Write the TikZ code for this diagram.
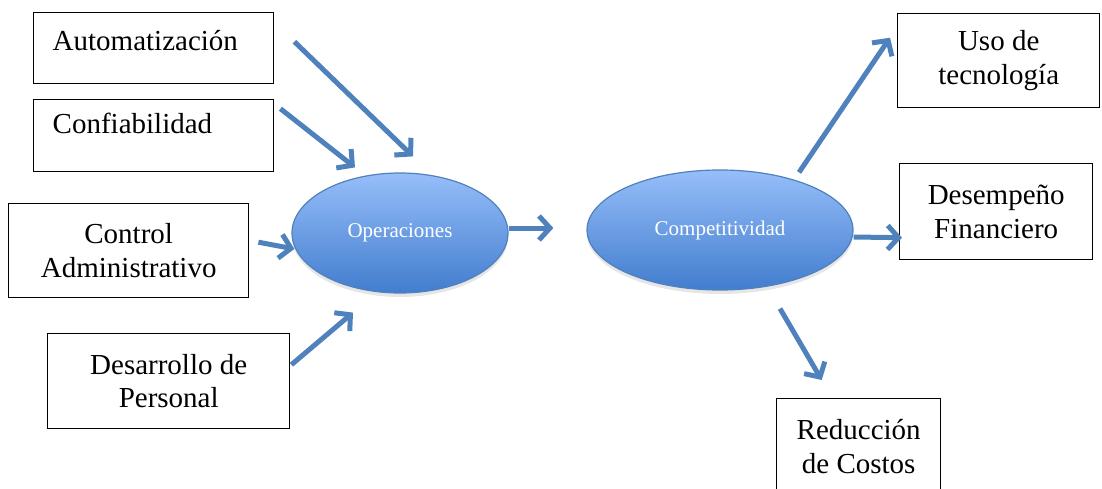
\documentclass[tikz,border=0pt]{standalone}
\usepackage{fontspec}
\setmainfont{Liberation Serif}
\usetikzlibrary{shapes.geometric,arrows.meta,shadows}
\definecolor{azulflecha}{RGB}{79,129,189}
\definecolor{azulclaro}{RGB}{150,190,249}
\definecolor{azuloscuro}{RGB}{66,125,206}

\begin{document}
\begin{tikzpicture}[x=1pt,y=-1pt,
    caja/.style={draw=black,line width=1.4pt,fill=white,inner sep=0pt,font=\fontsize{29}{33.5}\selectfont},
    elipse/.style={ellipse,draw=azulflecha,line width=1.2pt,top color=azulclaro,bottom color=azuloscuro,
      text=white,inner sep=0pt,font=\fontsize{21}{24}\selectfont,
      drop shadow={opacity=0.2,shadow xshift=0pt,shadow yshift=-4pt}},
    flecha/.style={draw=azulflecha,line width=5pt,-{Straight Barb[length=11pt,width=24pt]}}]

     \useasboundingbox (0,0) rectangle (1102,489);

     % draw left boxes
     \node[caja,anchor=north west,text width=202pt,inner xsep=19pt,align=left,
           text height=38pt,text depth=33pt] (auto) at (33,12) {Automatización};
     \node[caja,anchor=north west,text width=202pt,inner xsep=19pt,align=left,
           text height=34pt,text depth=38pt] (conf) at (33,99) {Confiabilidad};
     \node[caja,anchor=north west,minimum width=240pt,minimum height=94pt,align=center] (ctrl) at (8,203) {Control\\Administrativo};
     \node[caja,anchor=north west,minimum width=242pt,minimum height=95pt,align=center] (desa) at (47,333) {Desarrollo de\\Personal};

     % draw ellipses
     \node[elipse,minimum width=216pt,minimum height=120pt] (oper) at (400,233) {Operaciones};
     \node[elipse,minimum width=266pt,minimum height=120pt] (comp) at (720,230) {Competitividad};

     % draw right boxes
     \node[caja,anchor=north west,minimum width=202pt,minimum height=94pt,align=center] (uso) at (897,13) {Uso de\\tecnología};
     \node[caja,anchor=north west,minimum width=193pt,minimum height=96pt,align=center] (desem) at (899,163) {Desempeño\\Financiero};
     \node[caja,anchor=north west,minimum width=164pt,minimum height=96pt,align=center] (redu) at (776,398) {Reducción\\de Costos};

     % draw arrows
     \draw[flecha] ([shift={(20,-6.5)}]auto.east) -- ([shift={(13,-16)}]oper.north);
     \draw[flecha] ([shift={(6,-27)}]conf.east) -- ([shift={(-45,-5)}]oper.north);
     \draw[flecha] ([shift={(9,-8.5)}]ctrl.east) -- ([shift={(3,16)}]oper.west);
     \draw[flecha] ([shift={(1,-16.5)}]desa.east) -- ([shift={(-47,19)}]oper.south);
     \draw[flecha] ([shift={(0,-5)}]oper.east) -- ([shift={(-33,-2)}]comp.west);
     \draw[flecha] ([shift={(79,3)}]comp.north) -- ([shift={(-7,-23)}]uso.west);
     \draw[flecha] ([shift={(0,7)}]comp.east) -- ([shift={(3,26)}]desem.west);
     \draw[flecha] ([shift={(60,18)}]comp.south) -- ([shift={(-37,-18)}]redu.north);

\end{tikzpicture}
\end{document}
